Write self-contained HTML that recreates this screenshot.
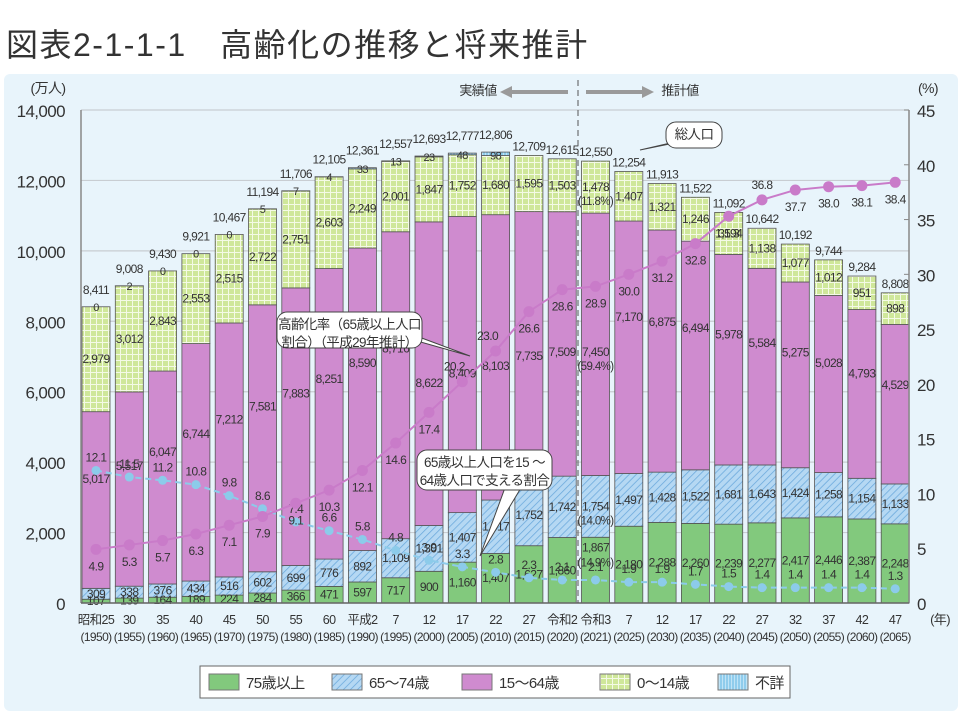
<!DOCTYPE html>
<html><head><meta charset="utf-8">
<style>
body{margin:0;width:962px;height:711px;background:#fff;overflow:hidden;font-family:"Liberation Sans","Noto Sans CJK JP",sans-serif;}
#title{position:absolute;left:6px;top:20px;font-size:32px;color:#333;letter-spacing:1.5px;white-space:nowrap;}
#panel{position:absolute;left:4px;top:74px;width:954px;height:637px;background:#e8f4fb;border-radius:6px;}
svg{position:absolute;left:0;top:0;}
</style></head>
<body>
<div id="title">図表2-1-1-1　高齢化の推移と将来推計</div>
<div id="panel"></div>
<svg id="chart" width="962" height="711" font-family="Liberation Sans, Noto Sans CJK JP, sans-serif">
<defs>
<pattern id="hatch" width="5" height="5" patternUnits="userSpaceOnUse" patternTransform="rotate(45)">
<rect width="5" height="5" fill="#b5d8f3"/><line x1="0" y1="0" x2="0" y2="5" stroke="#6aa8dc" stroke-width="1.5"/></pattern>
<pattern id="grid" width="6" height="6" patternUnits="userSpaceOnUse">
<rect width="6" height="6" fill="#cfe79a"/><path d="M0 0.5H6M0.5 0V6" stroke="#f4fae6" stroke-width="1"/></pattern>
<pattern id="vstripe" width="3" height="3" patternUnits="userSpaceOnUse">
<rect width="3" height="3" fill="#bfe3f6"/><line x1="1" y1="0" x2="1" y2="3" stroke="#5fb4e2" stroke-width="1"/></pattern>
</defs>
</svg>
<script>
const categories=["昭和25","30","35","40","45","50","55","60","平成2","7","12","17","22","27","令和2","令和3","7","12","17","22","27","32","37","42","47"];
const years=["(1950)","(1955)","(1960)","(1965)","(1970)","(1975)","(1980)","(1985)","(1990)","(1995)","(2000)","(2005)","(2010)","(2015)","(2020)","(2021)","(2025)","(2030)","(2035)","(2040)","(2045)","(2050)","(2055)","(2060)","(2065)"];
const age75=[107,139,164,189,224,284,366,471,597,717,900,1160,1407,1627,1860,1867,2180,2288,2260,2239,2277,2417,2446,2387,2248];
const age65=[309,338,376,434,516,602,699,776,892,1109,1301,1407,1517,1752,1742,1754,1497,1428,1522,1681,1643,1424,1258,1154,1133];
const age15=[5017,5517,6047,6744,7212,7581,7883,8251,8590,8716,8622,8409,8103,7735,7509,7450,7170,6875,6494,5978,5584,5275,5028,4793,4529];
const age0=[2979,3012,2843,2553,2515,2722,2751,2603,2249,2001,1847,1752,1680,1595,1503,1478,1407,1321,1246,1194,1138,1077,1012,951,898];
const unknown=[0,2,0,0,0,5,7,4,33,13,23,48,98,0,0,0,0,0,0,0,0,0,0,0,0];
const totals=[8411,9008,9430,9921,10467,11194,11706,12105,12361,12557,12693,12777,12806,12709,12615,12550,12254,11913,11522,11092,10642,10192,9744,9284,8808];
const agingRate=[4.9,5.3,5.7,6.3,7.1,7.9,9.1,10.3,12.1,14.6,17.4,20.2,23.0,26.6,28.6,28.9,30.0,31.2,32.8,35.3,36.8,37.7,38.0,38.1,38.4];
const supportRatio=[12.1,11.5,11.2,10.8,9.8,8.6,7.4,6.6,5.8,4.8,3.9,3.3,2.8,2.3,2.1,2.1,1.9,1.9,1.7,1.5,1.4,1.4,1.4,1.4,1.3];
const leftTicks=[0,2000,4000,6000,8000,10000,12000,14000];
const rightTicks=[0,5,10,15,20,25,30,35,40,45];

const svg=document.getElementById('chart');
const NS='http://www.w3.org/2000/svg';
const X0=81,X1=909,Y0=603,Y1=110;
const yL=v=>Y0-(v/14000)*(Y0-Y1);
const yR=v=>Y0-(v/45)*(Y0-Y1);
const step=33.3,bw=28;
const xC=i=>82+bw/2+i*step;
function mk(tag,attrs,parent){const e=document.createElementNS(NS,tag);for(const k in attrs)e.setAttribute(k,attrs[k]);(parent||svg).appendChild(e);return e;}
function txt(x,y,s,size,anchor,fill,parent){const t=mk('text',{x:x,y:y,'font-size':size||12,'text-anchor':anchor||'middle',fill:fill||'#333','letter-spacing':'-0.6'},parent);t.textContent=s;return t;}
const fmt=v=>v.toLocaleString('en-US');

leftTicks.forEach(v=>{
 const g=mk('line',{x1:X0,x2:X1,y1:yL(v),y2:yL(v),stroke:'#c8cdd2','stroke-width':1.2});
 
 
 const t=txt(65,yL(v)+7,fmt(v),17,'end','#333');
 
 
});
rightTicks.forEach(v=>{
 mk('line',{x1:X1,x2:X1-5,y1:yR(v),y2:yR(v),stroke:'#888'});
 const t=txt(917,yR(v)+7,String(v),17,'start','#333');
 
 
});
let t=txt(48,93,'(万人)',14,'middle','#333');
t=txt(928,93,'(%)',14,'middle','#333');
t=txt(940,624,'(年)',13,'middle','#333');

const segs=[[age75,'#82c97d'],[age65,'url(#hatch)'],[age15,'#cf8bcf'],[age0,'url(#grid)'],[unknown,'url(#vstripe)']];
const segNames=['bar-75-plus','bar-65-74','bar-15-64','bar-0-14','bar-unknown'];
categories.forEach((c,i)=>{
 let base=0;const x=xC(i)-bw/2;
 segs.forEach((s,k)=>{
  const v=s[0][i];if(v<=0)return;
  const r=mk('rect',{x:x,y:yL(base+v),width:bw,height:yL(base)-yL(base+v),fill:s[1],stroke:'#555','stroke-width':0.8});
  
  
  base+=v;
 });
 const b1=age75[i],b2=b1+age65[i],b3=b2+age15[i],b4=b3+age0[i];
 if(i==15){txt(xC(i),yL(b1)+14,fmt(age75[i]),12);txt(xC(i),yL(b1)+29,'(14.9%)',11.5);}
 else txt(xC(i),Math.min(yL(b1/2)+4,Y0+3),fmt(age75[i]),12);
 txt(xC(i),yL(b1+age65[i]/2)+4,fmt(age65[i]),12);
 const f=(i>=10&&i<=15)?0.47:0.62;
 txt(xC(i),yL(b2+age15[i]*f)+4,fmt(age15[i]),12);
 txt(xC(i),yL(b3+age0[i]/2)+4,fmt(age0[i]),12);
 if(i<13){txt(xC(i),yL(b4)+4,String(unknown[i]),11);}
 const tl=txt(xC(i),yL(totals[i])-(i<13?13:5),fmt(totals[i]),12);
 
 
 const xl=txt(xC(i),624,c,12.5);
 txt(xC(i),641,years[i],12);
});
txt(xC(15),yL(age75[15]+age65[15]+age15[15]+age0[15]*0.5)+18,'(11.8%)',11.5);
txt(xC(15),yL(age75[15]+age65[15]+age15[15]*0.47)+18,'(59.4%)',11.5);
txt(xC(15),yL(age75[15]+age65[15]/2)+18,'(14.0%)',11.5);

mk('line',{x1:X0,x2:X0,y1:Y1,y2:Y0,stroke:'#888','stroke-width':1.5});
mk('line',{x1:X1,x2:X1,y1:Y1,y2:Y0,stroke:'#888','stroke-width':1.5});
mk('line',{x1:X0,x2:X1,y1:Y0,y2:Y0,stroke:'#666','stroke-width':1.5});

const dv=mk('line',{x1:578,x2:578,y1:80,y2:603,stroke:'#555','stroke-dasharray':'6,4','stroke-width':1});

txt(478,95,'実績値',13,'middle','#333');
mk('path',{d:'M568 90H512V86L500 92L512 98V94H568Z',fill:'#9a9a9a'});
mk('path',{d:'M586 90H642V86L654 92L642 98V94H586Z',fill:'#9a9a9a'});
txt(680,95,'推計値',13,'middle','#333');

let d='';supportRatio.forEach((v,i)=>{d+=(i?'L':'M')+xC(i)+' '+yR(v);});
const sl=mk('path',{d:d,fill:'none',stroke:'#8ccbea','stroke-width':2,'stroke-dasharray':'6,4'});

supportRatio.forEach((v,i)=>{
 const p=mk('circle',{cx:xC(i),cy:yR(v),r:4.5,fill:'#8ccbea'});
 
 
 txt(xC(i),yR(v)-9,v.toFixed(1),12);
});

d='';agingRate.forEach((v,i)=>{d+=(i?'L':'M')+xC(i)+' '+yR(v);});
const al=mk('path',{d:d,fill:'none',stroke:'#c97bc9','stroke-width':2});

agingRate.forEach((v,i)=>{
 const p=mk('circle',{cx:xC(i),cy:yR(v),r:5.5,fill:'#c97bc9'});
 
 
 const above=(i==11||i==12||i==20);
 txt(xC(i)+(above&&i<20?-8:0),yR(v)+(above?-11:21),v.toFixed(1),12);
});

function callout(x,y,w,h,lines,tx,ty,name){
 const g=mk('g',{});
 
 
 mk('path',{d:`M${x+w*0.7} ${y+h/2}L${tx} ${ty}L${x+w*0.85} ${y+h/2}Z`,fill:'#fff',stroke:'#444'},g);
 mk('rect',{x:x,y:y,width:w,height:h,rx:10,fill:'#fff',stroke:'#444','stroke-width':1},g);
 lines.forEach((s,k)=>txt(x+w/2,y+17+k*18,s,13.5,'middle','#333',g));
}
callout(277,312,145,36,['高齢化率（65歳以上人口','割合）（平成29年推計）'],470,356,'aging-rate-callout');
callout(417,450,135,40,['65歳以上人口を15 ～','64歳人口で支える割合'],480,556,'support-ratio-callout');
callout(666,122,56,26,['総人口'],640,150,'total-population-callout');

const lg=mk('g',{});


mk('rect',{x:200,y:666,width:590,height:32,fill:'#fff',stroke:'#666'},lg);
const lItems=[['75歳以上','#82c97d'],['65～74歳','url(#hatch)'],['15～64歳','#cf8bcf'],['0～14歳','url(#grid)'],['不詳','url(#vstripe)']];
const lx=[209,332,462,600,718];
lItems.forEach((it,k)=>{
 const e=mk('g',{},lg);
 
 
 mk('rect',{x:lx[k],y:674,width:30,height:16,fill:it[1],stroke:'#777'},e);
 txt(lx[k]+37,688,it[0],15,'start','#333',e);
});
</script>
</body></html>
